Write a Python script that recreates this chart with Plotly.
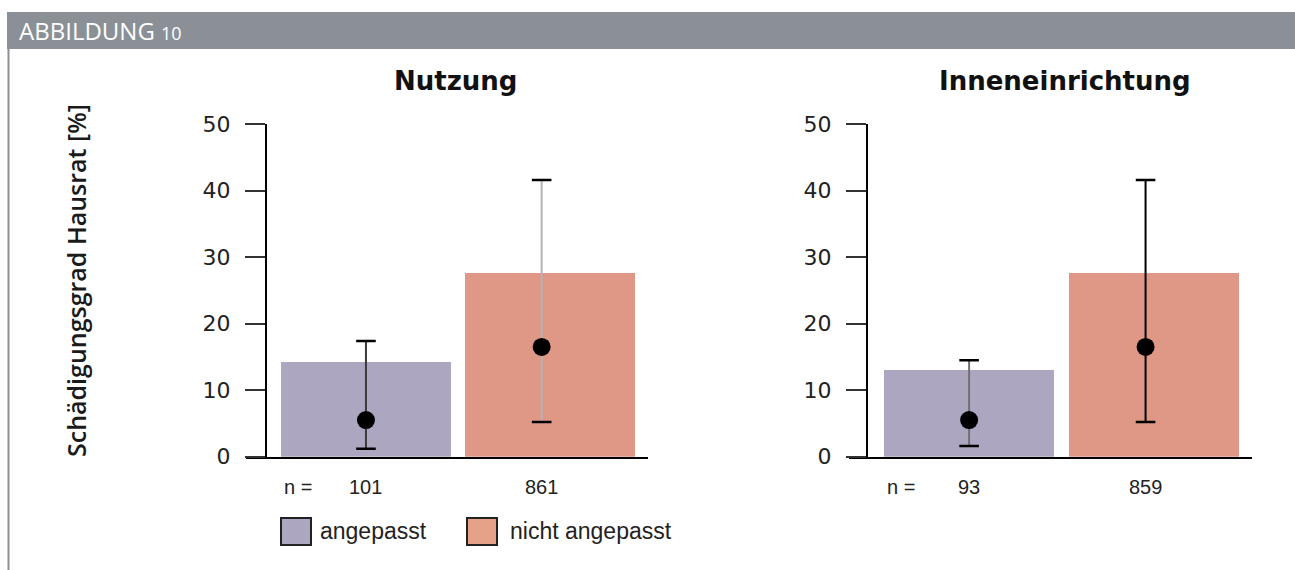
import plotly.graph_objects as go

# ---- data -------------------------------------------------------------
PANELS = ["Nutzung", "Inneneinrichtung"]
GROUPS = ["angepasst", "nicht angepasst"]

BAR_NUTZUNG = [14.2, 27.6]
BAR_INNEN = [13.0, 27.6]

MEAN_NUTZUNG = [5.5, 16.5]
MEAN_INNEN = [5.5, 16.5]

LOW_NUTZUNG = [1.2, 5.2]
HIGH_NUTZUNG = [17.4, 41.6]
LOW_INNEN = [1.6, 5.2]
HIGH_INNEN = [14.5, 41.6]

N_NUTZUNG = [101, 861]
N_INNEN = [93, 859]

Y_TICKS = [0, 10, 20, 30, 40, 50]

# ---- styling ----------------------------------------------------------
W, H = 1295, 570
BAR_COLORS = ["#aca6c0", "#df9786"]
LEGEND_COLORS = ["#aca6c0", "#e6a288"]
STEM_COLORS = [["#3a3a3a", "#b9b2b2"], ["#707070", "#000000"]]
DOT_SHIFT = [0.0, -0.045]
HEADER_GREY = "#8a9096"
TICK_FONT = dict(family="DejaVu Sans", size=22, color="#222222")
N_FONT = dict(family="Liberation Sans", size=20, color="#222222")


def px_x(x):
    return x / W


def px_y(y):
    return 1 - y / H


panel_data = [
    (BAR_NUTZUNG, MEAN_NUTZUNG, LOW_NUTZUNG, HIGH_NUTZUNG, N_NUTZUNG),
    (BAR_INNEN, MEAN_INNEN, LOW_INNEN, HIGH_INNEN, N_INNEN),
]
# pixel geometry of each panel: x-domain, y-axis line position, bar width
panel_geom = [
    dict(dom=(246, 648), yline=266, xr=(-0.652, 1.533), bw=0.926, title_x=455.5),
    dict(dom=(849, 1252), yline=867, xr=(-0.650, 1.531), bw=0.92, title_x=1064.5),
]
Y_DOMAIN = (px_y(456.7), px_y(124))

fig = go.Figure()
annotations = []
shapes = []

for p, (bars, means, lows, highs, ns) in enumerate(panel_data):
    g = panel_geom[p]
    xa = "x" if p == 0 else "x2"
    ya = "y" if p == 0 else "y2"
    idx = list(range(len(GROUPS)))

    fig.add_trace(go.Bar(
        x=idx, y=bars, width=g["bw"],
        marker=dict(color=BAR_COLORS, line=dict(width=0)),
        xaxis=xa, yaxis=ya, showlegend=False, hoverinfo="skip",
    ))

    dot_x = [i + s for i, s in zip(idx, DOT_SHIFT)]

    # error bar stems (no caps), coloured per group
    for i in idx:
        fig.add_trace(go.Scatter(
            x=[dot_x[i]], y=[means[i]], mode="markers",
            marker=dict(size=1, opacity=0),
            error_y=dict(type="data", symmetric=False,
                         array=[highs[i] - means[i]],
                         arrayminus=[means[i] - lows[i]],
                         color=STEM_COLORS[p][i], thickness=2, width=0),
            xaxis=xa, yaxis=ya, showlegend=False, hoverinfo="skip",
        ))

    # caps at interval ends
    fig.add_trace(go.Scatter(
        x=dot_x + dot_x, y=lows + highs, mode="markers",
        marker=dict(symbol="line-ew", size=14,
                    line=dict(width=2.5, color="#000000")),
        xaxis=xa, yaxis=ya, showlegend=False, hoverinfo="skip",
    ))

    # mean points
    fig.add_trace(go.Scatter(
        x=dot_x, y=means, mode="markers",
        marker=dict(size=18, color="#000000"),
        xaxis=xa, yaxis=ya, showlegend=False, hoverinfo="skip",
    ))

    # sample sizes under the axis
    annotations.append(dict(
        text="n =", x=-0.37, y=px_y(487), xref=xa, yref="paper",
        showarrow=False, xanchor="center", yanchor="middle", font=N_FONT,
    ))
    for i in idx:
        annotations.append(dict(
            text=str(ns[i]), x=dot_x[i], y=px_y(487), xref=xa, yref="paper",
            showarrow=False, xanchor="center", yanchor="middle", font=N_FONT,
        ))

    # panel title
    annotations.append(dict(
        text=f"<b>{PANELS[p]}</b>", x=px_x(g["title_x"]), y=px_y(81),
        xref="paper", yref="paper", showarrow=False,
        xanchor="center", yanchor="middle",
        font=dict(family="DejaVu Sans", size=26, color="#111111"),
    ))

# ---- axes -------------------------------------------------------------
for p, g in enumerate(panel_geom):
    xkey = "xaxis" if p == 0 else "xaxis2"
    ykey = "yaxis" if p == 0 else "yaxis2"
    fig.update_layout({
        xkey: dict(
            domain=[px_x(g["dom"][0]), px_x(g["dom"][1])],
            range=list(g["xr"]), anchor="y" if p == 0 else "y2",
            showline=True, linecolor="#000000", linewidth=2,
            showticklabels=False, ticks="", showgrid=False, zeroline=False,
            automargin=False, fixedrange=True,
        ),
        ykey: dict(
            domain=list(Y_DOMAIN), range=[0, 50],
            anchor="free", position=px_x(g["yline"]),
            tickvals=Y_TICKS, ticktext=[str(v) for v in Y_TICKS],
            ticks="outside", ticklen=20, tickwidth=1.5, tickcolor="#333333",
            ticklabelstandoff=10,
            showline=True, linecolor="#000000", linewidth=2,
            showgrid=False, zeroline=False, tickfont=TICK_FONT,
            automargin=False, fixedrange=True,
        ),
    })

# ---- header band, frame line, axis title, legend ----------------------
shapes.append(dict(type="rect", xref="paper", yref="paper",
                   x0=px_x(7), x1=1, y0=px_y(49), y1=px_y(12),
                   fillcolor=HEADER_GREY, line=dict(width=0), layer="below"))
shapes.append(dict(type="line", xref="paper", yref="paper",
                   x0=px_x(8.5), x1=px_x(8.5), y0=0, y1=px_y(49),
                   line=dict(color=HEADER_GREY, width=2)))
annotations.append(dict(
    text="ABBILDUNG <span style='font-size:18px'>10</span>",
    x=px_x(17), y=px_y(31), xref="paper", yref="paper", showarrow=False,
    xanchor="left", yanchor="middle",
    font=dict(family="Open Sans", size=24, color="#ffffff"),
))
annotations.append(dict(
    text="Schädigungsgrad Hausrat [%]", textangle=-90,
    x=px_x(76), y=px_y(281), xref="paper", yref="paper", showarrow=False,
    xanchor="center", yanchor="middle",
    font=dict(family="Open Sans", size=25, color="#1a1a1a", weight=600),
))

legend_boxes = [(281, 311, 318), (467, 497, 508)]
for (bx0, bx1, tx), name, col in zip(legend_boxes, GROUPS, LEGEND_COLORS):
    shapes.append(dict(type="rect", xref="paper", yref="paper",
                       x0=px_x(bx0), x1=px_x(bx1), y0=px_y(545), y1=px_y(518),
                       fillcolor=col, line=dict(color="#222222", width=2)))
    annotations.append(dict(
        text=name, x=px_x(tx), y=px_y(531), xref="paper", yref="paper",
        showarrow=False, xanchor="left", yanchor="middle",
        font=dict(family="Liberation Sans", size=23, color="#222222"),
    ))

fig.update_layout(
    width=W, height=H,
    margin=dict(l=0, r=0, t=0, b=0, pad=0, autoexpand=False),
    paper_bgcolor="#ffffff", plot_bgcolor="#ffffff",
    showlegend=False, bargap=0,
    shapes=shapes, annotations=annotations,
)

fig.write_html("out.html", config={"displayModeBar": False})
